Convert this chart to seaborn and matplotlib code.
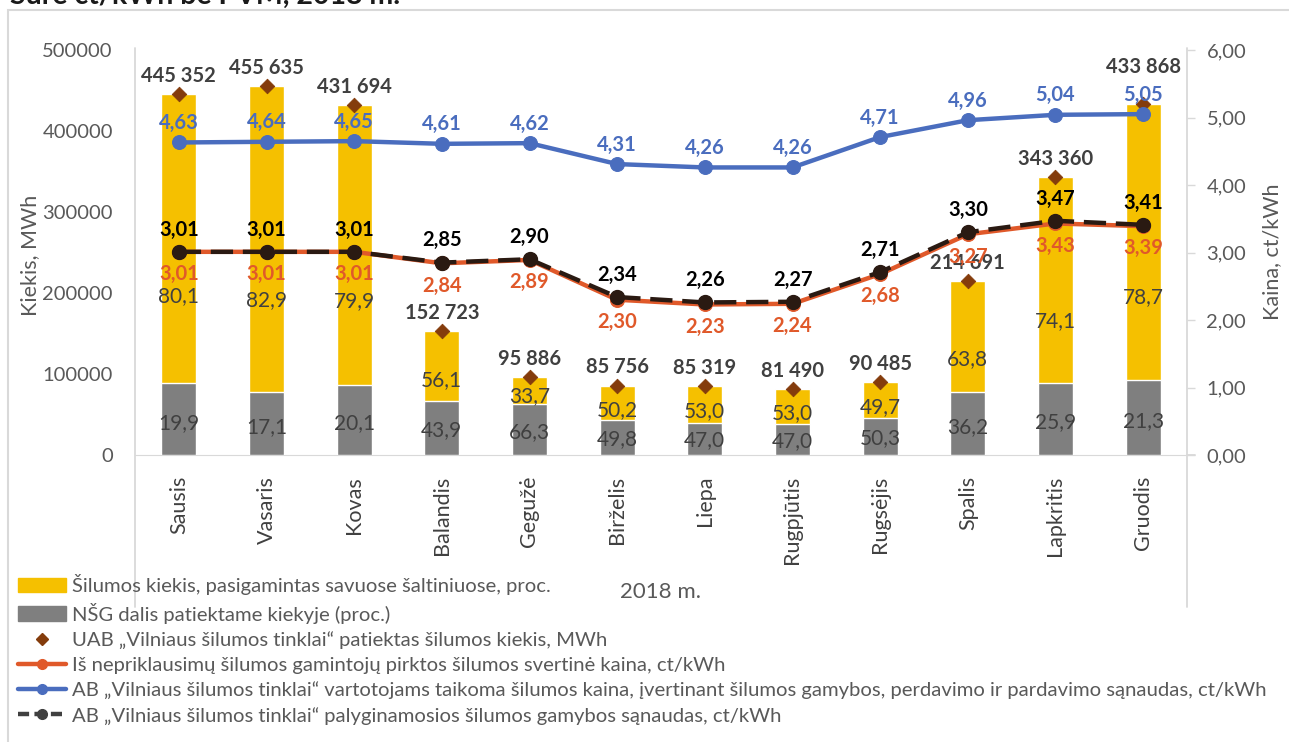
import numpy as np
import matplotlib
matplotlib.use("Agg")
import matplotlib.pyplot as plt
import seaborn as sns
from matplotlib.lines import Line2D
from matplotlib.patches import Patch, Rectangle

months = ['Sausis', 'Vasaris', 'Kovas', 'Balandis', 'Gegužė', 'Birželis',
          'Liepa', 'Rugpjūtis', 'Rugsėjis', 'Spalis', 'Lapkritis', 'Gruodis']
total_mwh = [445352, 455635, 431694, 152723, 95886, 85756,
             85319, 81490, 90485, 214691, 343360, 433868]
own_pct = [80.1, 82.9, 79.9, 56.1, 33.7, 50.2, 53.0, 53.0, 49.7, 63.8, 74.1, 78.7]
nsg_pct = [19.9, 17.1, 20.1, 43.9, 66.3, 49.8, 47.0, 47.0, 50.3, 36.2, 25.9, 21.3]
price_ind = [3.01, 3.01, 3.01, 2.84, 2.89, 2.30, 2.23, 2.24, 2.68, 3.27, 3.43, 3.39]
price_cons = [4.63, 4.64, 4.65, 4.61, 4.62, 4.31, 4.26, 4.26, 4.71, 4.96, 5.04, 5.05]
cost_prod = [3.01, 3.01, 3.01, 2.85, 2.90, 2.34, 2.26, 2.27, 2.71, 3.30, 3.47, 3.41]

YELLOW = '#F5C000'
GRAY = '#7F7F7F'
BROWN = '#843C0C'
BLUE = '#4A6DBE'
ORANGE = '#E0592A'
DARK = '#2A1A12'
TXT = '#595959'

sns.set_style('white')
plt.rcParams['font.family'] = ['Lato', 'DejaVu Sans']

fig = plt.figure(figsize=(12.89, 7.42), dpi=100)
ax = fig.add_axes([135/1289, 1-455/742, (1187-135)/1289, (455-50)/742])
ax2 = ax.twinx()

x = np.arange(len(months))
total = np.array(total_mwh, dtype=float)
nsg_abs = total * np.array(nsg_pct) / 100

# stacked look: full bar yellow, lower gray part on top of it
sns.barplot(x=months, y=total, color=YELLOW, width=0.4, saturation=1, ax=ax, zorder=2)
sns.barplot(x=months, y=nsg_abs, color=GRAY, width=0.4, saturation=1, ax=ax, zorder=3)
sns.scatterplot(x=x, y=total, marker='D', color=BROWN, s=55, edgecolor=BROWN, ax=ax, zorder=4)

ax.set_ylim(0, 500000)
ax.set_xlim(-0.5, 11.5)
ax.set_yticks(np.arange(0, 500001, 100000))
ax.set_yticklabels([str(v) for v in range(0, 500001, 100000)])
ax.tick_params(axis='y', length=0, labelsize=14.5, labelcolor=TXT, pad=16)
ax.tick_params(axis='x', length=0, labelsize=15.5, labelcolor='#404040', rotation=90, pad=15)
ax.set_xlabel('')
ax.set_ylabel('')

# bar labels
for i in range(len(months)):
    lift = 13
    if abs(total[i] * 6 / 500000 - price_cons[i]) < 0.3:
        lift = 26
    ax.annotate(f"{total_mwh[i]:,}".replace(',', ' '), (i, total[i]), xytext=(0, lift),
                textcoords='offset points', ha='center', va='center',
                fontsize=14.5, fontweight='bold', color='#404040', zorder=6)
    ax.text(i, nsg_abs[i] * 0.45, f"{nsg_pct[i]:.1f}".replace('.', ','),
            ha='center', va='center', fontsize=15, color='#404040', zorder=5)
    ytop = nsg_abs[i] + 0.3 * (total[i] - nsg_abs[i])
    ax.text(i, ytop, f"{own_pct[i]:.1f}".replace('.', ','),
            ha='center', va='center', fontsize=15, color='#404040', zorder=5)

# price lines
sns.lineplot(x=x, y=price_cons, color=BLUE, linewidth=3.2, marker='o', markersize=10,
             markeredgecolor=BLUE, ax=ax2, zorder=3)
sns.lineplot(x=x, y=price_ind, color=ORANGE, linewidth=3.2, marker='o', markersize=10,
             markeredgecolor=ORANGE, ax=ax2, zorder=3)
ax2.plot(x, cost_prod, color=DARK, linewidth=3.2, dashes=(5, 2.2), marker='o',
         markersize=10, markeredgecolor=DARK, markerfacecolor=DARK, zorder=4)

for i in range(len(months)):
    ax2.annotate(f"{price_cons[i]:.2f}".replace('.', ','), (i, price_cons[i]), xytext=(0, 14),
                 textcoords='offset points', ha='center', va='center',
                 fontsize=14.5, fontweight='bold', color=BLUE, zorder=6)
    ax2.annotate(f"{cost_prod[i]:.2f}".replace('.', ','), (i, cost_prod[i]), xytext=(0, 16),
                 textcoords='offset points', ha='center', va='center',
                 fontsize=14.5, fontweight='bold', color='black', zorder=6)
    ax2.annotate(f"{price_ind[i]:.2f}".replace('.', ','), (i, price_ind[i]), xytext=(0, -16),
                 textcoords='offset points', ha='center', va='center',
                 fontsize=14.5, fontweight='bold', color=ORANGE, zorder=6)

ax2.set_ylim(0, 6)
ax2.set_yticks(np.arange(0, 7, 1))
ax2.set_yticklabels([f"{v:.2f}".replace('.', ',') for v in range(7)])
ax2.tick_params(axis='y', length=6, width=1, color='#D9D9D9', labelsize=14.5,
                labelcolor=TXT, pad=8, direction='out')
ax2.set_ylabel('')

for a in (ax, ax2):
    for s in ('top', 'left', 'right'):
        a.spines[s].set_visible(False)
    a.spines['bottom'].set_color('#D9D9D9')
    a.grid(False)
ax2.spines['bottom'].set_visible(False)

# long axis lines, reaching into the category label area
for px in (135, 1187):
    fig.add_artist(Line2D([px/1289, px/1289], [1-48/742, 1-607/742],
                          transform=fig.transFigure, color='#D9D9D9', linewidth=1.3))
fig.add_artist(Line2D([1187/1289, 1195/1289], [1-455/742, 1-455/742],
                      transform=fig.transFigure, color='#D9D9D9', linewidth=1.3))

# outer frame
fig.add_artist(Rectangle((8/1289, -0.1), 1.2, 1.1-10/742, transform=fig.transFigure,
                         fill=False, edgecolor='#D9D9D9', linewidth=1.5))

fig.text(30/1289, 1-255/742, 'Kiekis, MWh', rotation=90, ha='center', va='center',
         fontsize=15.5, color=TXT)
fig.text(1272/1289, 1-252/742, 'Kaina, ct/kWh', rotation=90, ha='center', va='center',
         fontsize=15.5, color=TXT)
fig.text(661/1289, 1-592/742, '2018 m.', ha='center', va='center', fontsize=16, color=TXT)
fig.text(10/1289, 1-4/742, 'Sure ct/kWh be PVM, 2018 m.', ha='left', va='baseline',
         fontsize=20.5, fontweight='bold', color='#1a1a1a')

handles = [
    Patch(facecolor=YELLOW, edgecolor=YELLOW),
    Patch(facecolor=GRAY, edgecolor=GRAY),
    Line2D([], [], linestyle='none', marker='D', color=BROWN, markersize=6),
    Line2D([], [], color=ORANGE, linewidth=3.2, marker='o', markersize=7),
    Line2D([], [], color=BLUE, linewidth=3.2, marker='o', markersize=7),
    Line2D([], [], color='#404040', linewidth=3.2, dashes=(2.5, 1.2), marker='o', markersize=7),
]
labels = [
    'Šilumos kiekis, pasigamintas savuose šaltiniuose, proc.',
    'NŠG dalis patiektame kiekyje (proc.)',
    'UAB „Vilniaus šilumos tinklai“ patiektas šilumos kiekis, MWh',
    'Iš nepriklausimų šilumos gamintojų pirktos šilumos svertinė kaina, ct/kWh',
    'AB „Vilniaus šilumos tinklai“ vartotojams taikoma šilumos kaina, įvertinant šilumos gamybos, perdavimo ir pardavimo sąnaudas, ct/kWh',
    'AB „Vilniaus šilumos tinklai“ palyginamosios šilumos gamybos sąnaudas, ct/kWh',
]
leg = fig.legend(handles, labels, loc='upper left', bbox_to_anchor=(0.008, 1-566/742),
                 frameon=False, fontsize=14.6, handlelength=2.35, handletextpad=0.3,
                 labelspacing=0.37, borderaxespad=0)
for t in leg.get_texts():
    t.set_color(TXT)

fig.savefig('out.png', dpi=100)
